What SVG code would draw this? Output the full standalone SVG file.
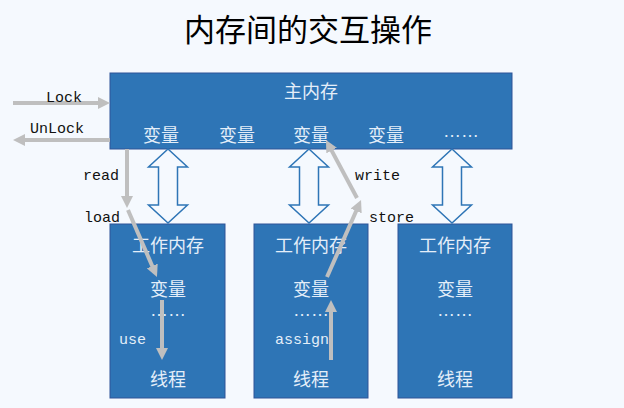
<svg xmlns="http://www.w3.org/2000/svg" width="624" height="408" viewBox="0 0 624 408">
<style>
.box{fill:#2E75B6;stroke:#2F5597;stroke-width:1}
.cn{font-family:"Noto Sans CJK SC",sans-serif;font-size:18px;fill:#E4EEF9;text-anchor:middle}
.dots{font-family:"Liberation Sans",sans-serif;font-size:18px;fill:#E4EEF9;text-anchor:middle}
.lbl{font-family:"Liberation Mono",monospace;font-size:15px;fill:#111}
.lblw{font-family:"Liberation Mono",monospace;font-size:15px;fill:#E4EEF9}
.dbl{fill:#F5F9FE;stroke:#2E75B6;stroke-width:1.5}
.g{stroke:#BFBFBF;stroke-width:4;fill:none;marker-end:url(#ah)}
</style>
<defs>
<marker id="ah" markerUnits="userSpaceOnUse" markerWidth="12" markerHeight="12" refX="3" refY="6" orient="auto">
<path d="M0,0 L12,6 L0,12 Z" fill="#BFBFBF"/>
</marker>
</defs>
<rect width="624" height="408" fill="#F5F9FE"/>
<text x="308" y="41" font-family="Noto Sans CJK SC,sans-serif" font-size="31" fill="#000" text-anchor="middle">内存间的交互操作</text>
<g id="main-memory">
<rect class="box" x="110" y="73" width="402" height="76"/>
<text class="cn" x="311" y="98">主内存</text>
<text class="cn" x="161" y="142">变量</text>
<text class="cn" x="237" y="142">变量</text>
<text class="cn" x="311" y="142">变量</text>
<text class="cn" x="386" y="142">变量</text>
<text class="dots" x="461" y="137">……</text>
</g>
<g id="work-memory-1">
<rect class="box" x="110" y="224" width="115" height="174"/>
<text class="cn" x="168" y="252">工作内存</text>
<text class="cn" x="168" y="296">变量</text>
<text class="dots" x="168" y="316">……</text>
<text class="cn" x="168" y="386">线程</text>
</g>
<g id="work-memory-2">
<rect class="box" x="254" y="224" width="114" height="174"/>
<text class="cn" x="311" y="252">工作内存</text>
<text class="cn" x="311" y="296">变量</text>
<text class="dots" x="311" y="316">……</text>
<text class="cn" x="311" y="386">线程</text>
</g>
<g id="work-memory-3">
<rect class="box" x="398" y="224" width="114" height="174"/>
<text class="cn" x="455" y="252">工作内存</text>
<text class="cn" x="455" y="296">变量</text>
<text class="dots" x="455" y="316">……</text>
<text class="cn" x="455" y="386">线程</text>
</g>
<g id="connectors">
<path class="dbl" d="M168,149 L187.5,167 L177.5,167 L177.5,205 L187.5,205 L168,223 L148.5,205 L158.5,205 L158.5,167 L148.5,167 Z"/>
<path class="dbl" d="M309,149 L328.5,167 L318.5,167 L318.5,205 L328.5,205 L309,223 L289.5,205 L299.5,205 L299.5,167 L289.5,167 Z"/>
<path class="dbl" d="M452,149 L471.5,167 L461.5,167 L461.5,205 L471.5,205 L452,223 L432.5,205 L442.5,205 L442.5,167 L432.5,167 Z"/>
<line class="g" x1="13" y1="103" x2="101" y2="103"/>
<line class="g" x1="110" y1="140" x2="22" y2="140"/>
<line class="g" x1="127" y1="149" x2="127" y2="199"/>
<line class="g" x1="128" y1="210" x2="153.4" y2="268.7"/>
<line class="g" x1="162" y1="300" x2="162" y2="351"/>
<line class="g" x1="331" y1="360" x2="331" y2="309"/>
<line class="g" x1="327" y1="277" x2="357.4" y2="208.2"/>
<line class="g" x1="357" y1="198" x2="330.2" y2="147.9"/>
<text class="lbl" x="46" y="102">Lock</text>
<text class="lbl" x="30" y="133">UnLock</text>
<text class="lbl" x="83" y="180">read</text>
<text class="lbl" x="84" y="222">load</text>
<text class="lbl" x="355" y="180">write</text>
<text class="lbl" x="369" y="222">store</text>
<text class="lblw" x="119" y="344">use</text>
<text class="lblw" x="275" y="344">assign</text>
</g>
</svg>
